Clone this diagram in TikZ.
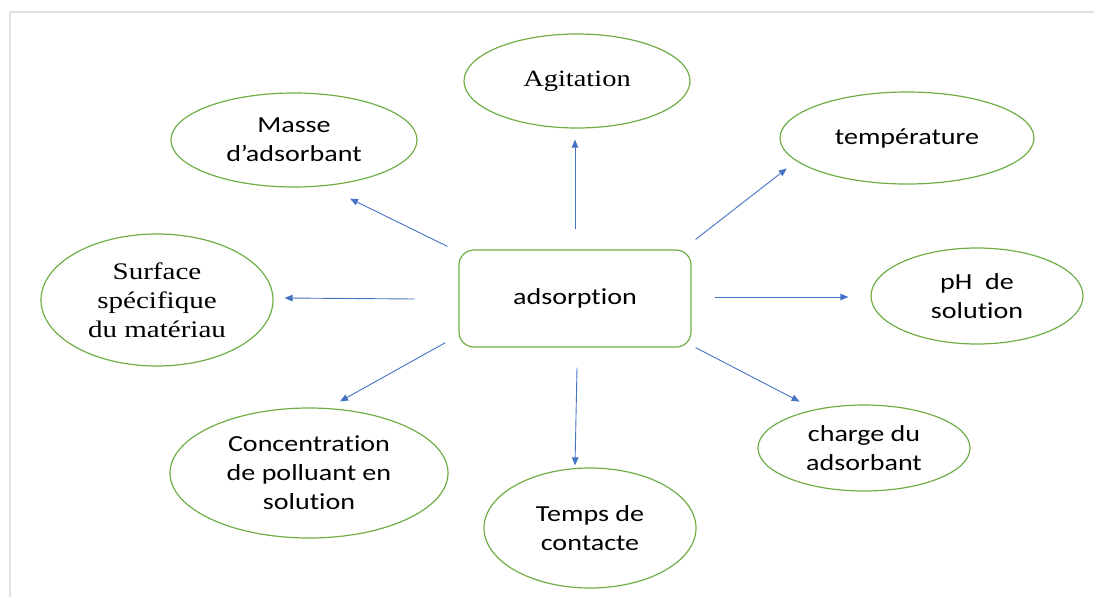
\documentclass[tikz,border=0pt]{standalone}
\usepackage{fontspec}
\setmainfont[FakeStretch=1.22,Ligatures=NoCommon]{Carlito}
\newfontfamily\serifstr[FakeStretch=1.22,Ligatures=NoCommon]{Liberation Serif}
\usetikzlibrary{shapes.geometric,arrows.meta}
\definecolor{offgreen}{RGB}{112,173,71}
\definecolor{offblue}{RGB}{68,114,196}
\definecolor{framegray}{RGB}{226,226,226}
\tikzset{
  bubble/.style={ellipse, draw=offgreen, line width=1.2pt, inner sep=0pt, align=center,
    font=\fontsize{23}{29}\selectfont},
  centerbox/.style={rectangle, rounded corners=15pt, draw=offgreen, line width=1.2pt,
    minimum width=232pt, minimum height=97pt, inner sep=0pt, font=\fontsize{23}{29}\selectfont},
  link/.style={draw=offblue, line width=0.9pt, -{Triangle[length=8pt,width=6.5pt]}},
}
\begin{document}
\begin{tikzpicture}[x=1pt,y=-1pt]
\useasboundingbox (0,0) rectangle (1094,597);
\draw[framegray, line width=2pt] (10,597) -- (10,12) -- (1094,12);

\node[centerbox] (ads) at (575,298.5) {adsorption};
\node[bubble, minimum width=226pt, minimum height=94pt, font=\serifstr\fontsize{23.3}{29}\selectfont] (agit) at (577,81) {Agitation};
\node[bubble, minimum width=246pt, minimum height=94pt] (masse) at (294,140) {Masse\\d’adsorbant};
\node[bubble, minimum width=254pt, minimum height=92pt] (temp) at (907,138) {température};
\node[bubble, minimum width=232pt, minimum height=132pt, font=\serifstr\fontsize{23.8}{29}\selectfont] (surf) at (157,300) {Surface\\spécifique\\du matériau};
\node[bubble, minimum width=212pt, minimum height=96pt] (ph) at (977,296) {pH\ \ de\\solution};
\node[bubble, minimum width=278pt, minimum height=130pt] (conc) at (309,473) {Concentration\\de polluant en\\solution};
\node[bubble, minimum width=212pt, minimum height=120pt] (temps) at (590,528) {Temps de\\contacte};
\node[bubble, minimum width=212pt, minimum height=86pt] (charge) at (864,448) {charge du\\adsorbant};

\draw[link] ([shift={(0,-20)}]ads.north) -- ([shift={(-2,11)}]agit.south);
\draw[link] ([shift={(-11,-3)}]ads.north west) -- ([shift={(56,11)}]masse.south);
\draw[link] ([shift={(4,-10)}]ads.north east) -- ([shift={(-30,-2.5)}]temp.south west);
\draw[link] ([shift={(-44,0.5)}]ads.west) -- ([shift={(11,-2)}]surf.east);
\draw[link] ([shift={(23,-1.5)}]ads.east) -- ([shift={(-22,1)}]ph.west);
\draw[link] ([shift={(-13,-5)}]ads.south west) -- ([shift={(31,-6)}]conc.north);
\draw[link] ([shift={(2,20)}]ads.south) -- ([shift={(-15,-2)}]temps.north);
\draw[link] ([shift={(4,0)}]ads.south east) -- ([shift={(11,-15.6)}]charge.north west);
\end{tikzpicture}
\end{document}
